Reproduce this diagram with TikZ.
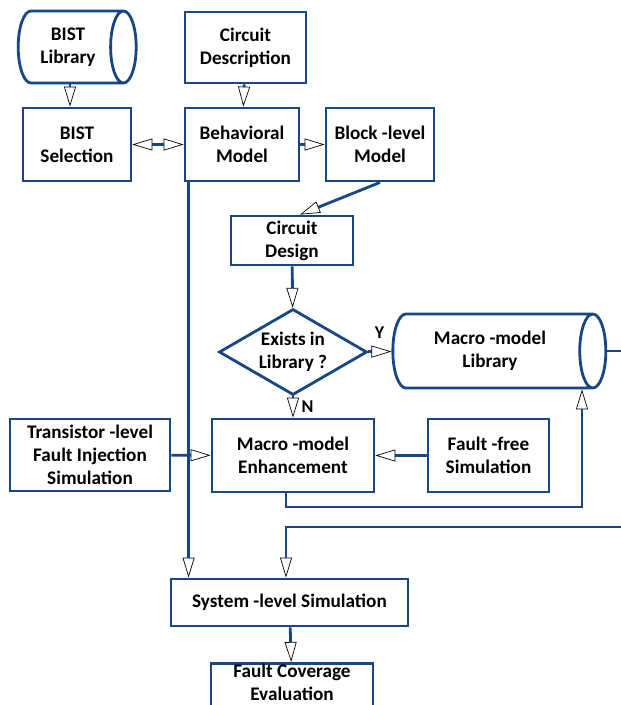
\documentclass[tikz,border=0pt]{standalone}
\usepackage{fontspec}
\setmainfont{Carlito}
\usetikzlibrary{shapes.geometric,arrows.meta}
\definecolor{flowblue}{RGB}{22,70,132}
\tikzset{
  box/.style={draw=flowblue, line width=2.8pt, fill=white, align=center, inner sep=2pt,
    font=\bfseries\fontsize{19.2}{23}\selectfont},
  store/.style={box, cylinder, shape border rotate=0, aspect=0.6},
  ask/.style={box, diamond, aspect=1.72, inner sep=0pt},
  flow/.style={draw=flowblue, line width=2.8pt},
  tag/.style={font=\bfseries\fontsize{18}{20}\selectfont}
}

\begin{document}
\begin{tikzpicture}[x=1pt,y=-1pt,
    >={Triangle[length=20pt,width=12pt,fill=white,color=black,line width=.7pt]}]
        % frame
        \useasboundingbox (0,0) rectangle (621,705);
        \clip (0,0) rectangle (621,705);
        % top row
        \node[store, minimum height=118pt, minimum width=72pt] (blib) at (68,47) {BIST\\Library};
        \node[box, minimum width=121pt, minimum height=71pt] (cdesc) at (245.5,47.5) {Circuit\\Description};
        \node[box, minimum width=108pt, minimum height=73pt] (bsel) at (77,144.5) {BIST\\Selection};
        \node[box, minimum width=114pt, minimum height=73pt] (beh) at (242,144.5) {Behavioral\\Model};
        \node[box, minimum width=108pt, minimum height=73pt] (blk) at (380,144.5) {Block -level\\Model};
        % middle
        \node[box, minimum width=122pt, minimum height=49pt] (cdes) at (292,240.5) {Circuit\\Design};
        \node[ask, minimum width=148pt, minimum height=86pt] (exist) at (293,352) {Exists in\\Library ?};
        \node[store, minimum height=213pt, minimum width=74pt] (mlib) at (490,351) {Macro -model\\Library};
        \node[box, minimum width=162pt, minimum height=73pt] (enh) at (293,455.5) {Macro -model\\Enhancement};
        \node[box, minimum width=121pt, minimum height=73pt] (ffree) at (488.5,455.5) {Fault -free\\Simulation};
        \node[box, minimum width=160pt, minimum height=72pt] (trans) at (90,455) {Transistor -level\\Fault Injection\\Simulation};
        % bottom
        \node[box, minimum width=237pt, minimum height=47pt] (sys) at (289.5,602.5) {System -level Simulation};
        \node[box, minimum width=162pt, anchor=north, inner ysep=1pt, text depth=16pt] (fcov) at (292,662) {Fault Coverage\\Evaluation};
        % helper points
        \coordinate (drop) at ([xshift=5pt]beh.south west);
        \coordinate (loop) at (582,507);
        \coordinate (bus) at (286,527);
        % connectors
        \draw[flow,->] ([xshift=2pt]blib.south) -- ([xshift=2pt]blib.south |- bsel.north);
        \draw[flow,->] (cdesc) -- (beh);
        \draw[flow,<->] (bsel) -- (beh);
        \draw[flow,->] (beh) -- (blk);
        \draw[flow,->] (blk.south) -- ([xshift=8pt]cdes.north);
        \draw[flow,->] (cdes) -- (exist);
        \draw[flow,->] (exist) -- (mlib) node[tag, midway, above=8pt] {Y};
        \draw[flow,->] (exist) -- (enh) node[tag, midway, right=4pt] {N};
        \draw[flow,->] (ffree) -- (enh);
        \draw[flow,->] (trans) -- (enh);
        \draw[flow,->] ([xshift=-7pt]enh.south) |- (loop) -- (loop |- mlib.south);
        \draw[flow,->] (drop) -- (drop |- sys.north);
        \draw[flow,->] (mlib.east) -- ++(25,0) |- (bus) -- (bus |- sys.north);
        \draw[flow,->] (sys) -- (fcov);
      \end{tikzpicture}
\end{document}
